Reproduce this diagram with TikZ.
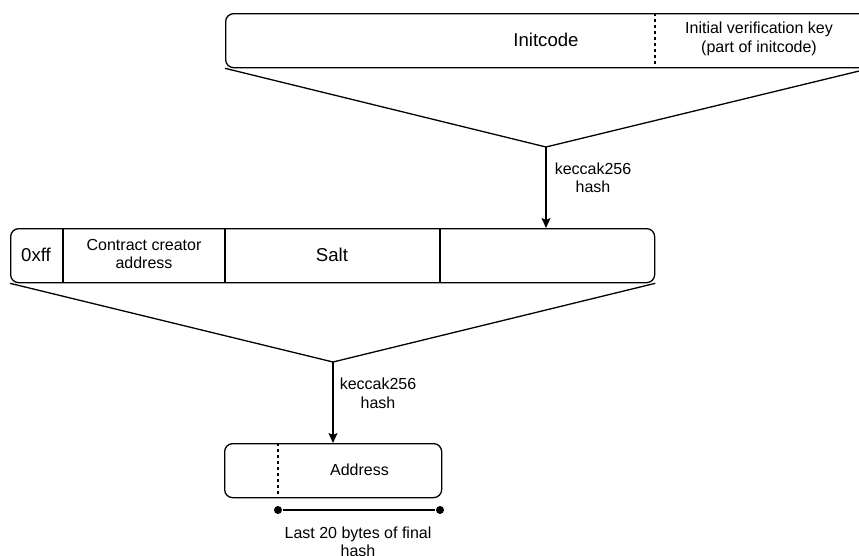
\documentclass[tikz,border=0pt]{standalone}
\usepackage{fontspec}
\setmainfont{Liberation Sans}
\usetikzlibrary{arrows.meta}
\begin{document}
\begin{tikzpicture}[x=1pt,y=-1pt,
  line width=1.3pt,
  field/.style={draw, rounded corners=8pt, minimum height=54pt, inner sep=0pt, anchor=north west},
  lbl/.style={font=\fontsize{16}{18.5}\selectfont, align=center, inner sep=0pt},
  bigl/.style={font=\fontsize{18.6}{22}\selectfont, inner sep=0pt},
  hasharrow/.style={-{Stealth[length=10pt,width=9pt,inset=2pt]}},
  partline/.style={dash pattern=on 3pt off 3pt},
  endpt/.style={circle, fill, inner sep=0pt, minimum size=8pt}]
\useasboundingbox (0,0) rectangle (859,555);
\clip (0,0) rectangle (859,555);

% init code row
\node[field, minimum width=644pt] (init) at (225,13) {};
\node[bigl] (initlbl) at (546,40) {Initcode};
\draw[partline] ([xshift=430pt]init.north west) -- ([xshift=430pt]init.south west);
\node[lbl] (vkey) at (759,39) {Initial verification key\\(part of initcode)};

% first hash
\coordinate (apex1) at (546,147);
\draw (init.south west) -- (apex1) -- (init.south east);

% create2 preimage row
\node[field, minimum width=644pt] (preimage) at (10,228) {};
\draw[hasharrow] (apex1) -- (apex1 |- preimage.north);
\node[lbl] (hash1) at (593,178) {keccak256\\hash};
\draw ([xshift=53pt]preimage.north west) -- ([xshift=53pt]preimage.south west);
\draw ([xshift=215pt]preimage.north west) -- ([xshift=215pt]preimage.south west);
\draw ([xshift=430pt]preimage.north west) -- ([xshift=430pt]preimage.south west);
\node[bigl] (prefix) at (36,255) {0xff};
\node[lbl] (creator) at (144,254) {Contract creator\\address};
\node[bigl] (salt) at (332,255) {Salt};

% second hash
\coordinate (apex2) at (333,362);
\draw (preimage.south west) -- (apex2) -- (preimage.south east);

% resulting address
\node[field, minimum width=217pt] (addr) at (224,443) {};
\draw[hasharrow] (apex2) -- (apex2 |- addr.north);
\node[lbl] (hash2) at (378,393.5) {keccak256\\hash};
\draw[partline] ([xshift=54pt]addr.north west) -- ([xshift=54pt]addr.south west);
\node[lbl] (addrlbl) at (359.5,470) {Address};

% span of the last 20 bytes
\node[endpt] (dotl) at (278,510) {};
\node[endpt] (dotr) at (440,510) {};
\draw (dotl) -- (dotr);
\node[lbl] (last20) at (358,542) {Last 20 bytes of final\\hash};
\end{tikzpicture}
\end{document}
